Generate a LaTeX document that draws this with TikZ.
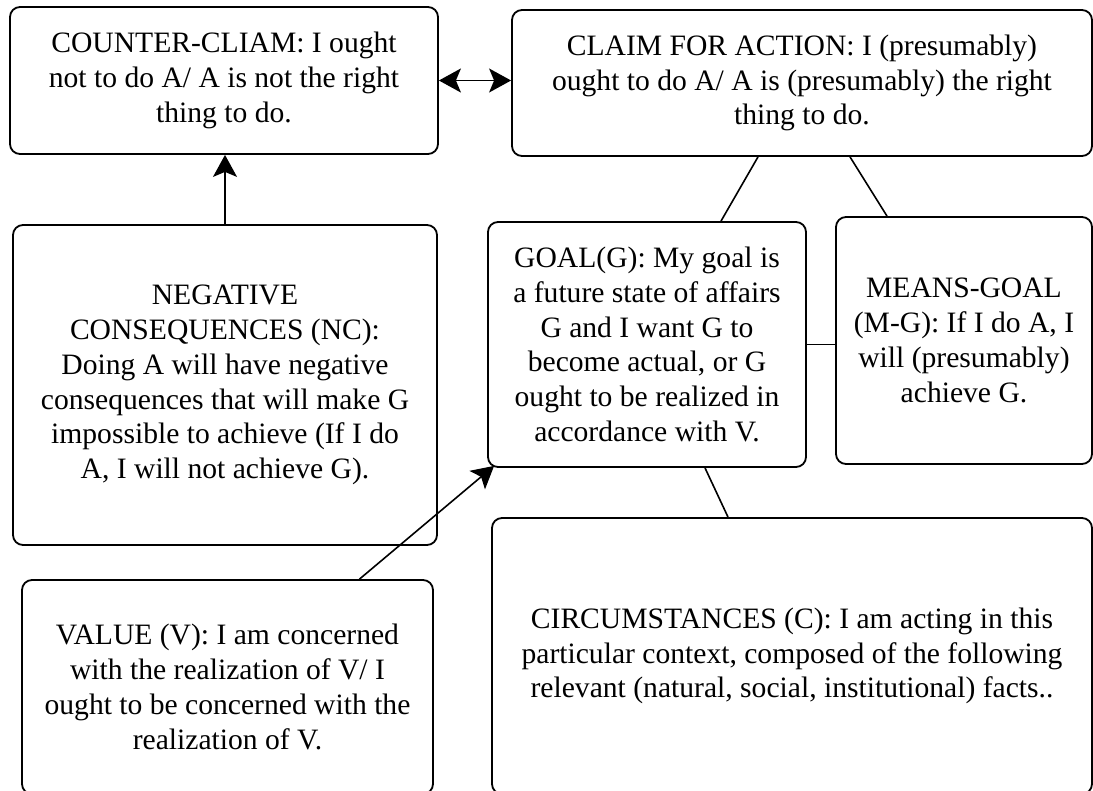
\documentclass[tikz,border=0pt]{standalone}
\usepackage{fontspec}
\setmainfont{Liberation Serif}
\usetikzlibrary{arrows.meta}
\begin{document}
\begin{tikzpicture}[x=1pt,y=-1pt,
  box/.style={draw,line width=1.8pt,rounded corners=10pt,inner sep=0pt,align=center,
    font=\fontsize{29.6}{34.8}\selectfont},
  link/.style={line width=1.6pt},
  arrowlink/.style={line width=1.6pt,-{Stealth[length=22pt,width=24pt,inset=5pt]}},
  dualarrow/.style={line width=1.6pt,{Stealth[length=22pt,width=24pt,inset=5pt]}-{Stealth[length=22pt,width=24pt,inset=5pt]}}]
\useasboundingbox (0,0) rectangle (1093,791);
\clip (0,0) rectangle (1093,791);

\node[box,minimum width=428pt,minimum height=147pt] (counter) at (224,80.5)
  {COUNTER-CLIAM: I ought\\not to do A/ A is not the right\\thing to do.};
\node[box,minimum width=580pt,minimum height=146pt] (claim) at (802,83)
  {CLAIM FOR ACTION: I (presumably)\\ought to do A/ A is (presumably) the right\\thing to do.};
\node[box,minimum width=424pt,minimum height=320pt] (nc) at (225,385)
  {NEGATIVE\\CONSEQUENCES (NC):\\Doing A will have negative\\consequences that will make G\\impossible to achieve (If I do\\A, I will not achieve G).};
\node[box,minimum width=318pt,minimum height=245pt] (goal) at (647,344.5)
  {GOAL(G): My goal is\\a future state of affairs\\G and I want G to\\become actual, or G\\ought to be realized in\\accordance with V.};
\node[box,minimum width=256pt,minimum height=247pt] (means) at (964,340.5)
  {MEANS-GOAL\\(M-G): If I do A, I\\will (presumably)\\achieve G.};
\node[box,minimum width=411pt,minimum height=214pt] (value) at (227.5,687)
  {VALUE (V): I am concerned\\with the realization of V/ I\\ought to be concerned with the\\realization of V.};
\node[box,minimum width=600pt,minimum height=276pt] (circ) at (792,656)
  {CIRCUMSTANCES (C): I am acting in this\\particular context, composed of the following\\relevant (natural, social, institutional) facts..};

% arrows between the claims and towards the goal
\draw[dualarrow] (counter.east) -- (claim.west |- counter.east);
\draw[arrowlink] (nc.north) -- (nc.north |- counter.south);
\draw[arrowlink] ([xshift=132pt]value.north) -- ([xshift=7pt,yshift=2pt]goal.south west);

% plain links of the practical argument
\draw[link] ([xshift=-44pt]claim.south) -- ([xshift=74pt]goal.north);
\draw[link] ([xshift=48pt]claim.south) -- ([xshift=-77pt]means.north);
\draw[link] (goal.east) -- (means.west |- goal.east);
\draw[link] ([xshift=58pt]goal.south) -- ([xshift=-64pt]circ.north);
\end{tikzpicture}
\end{document}
